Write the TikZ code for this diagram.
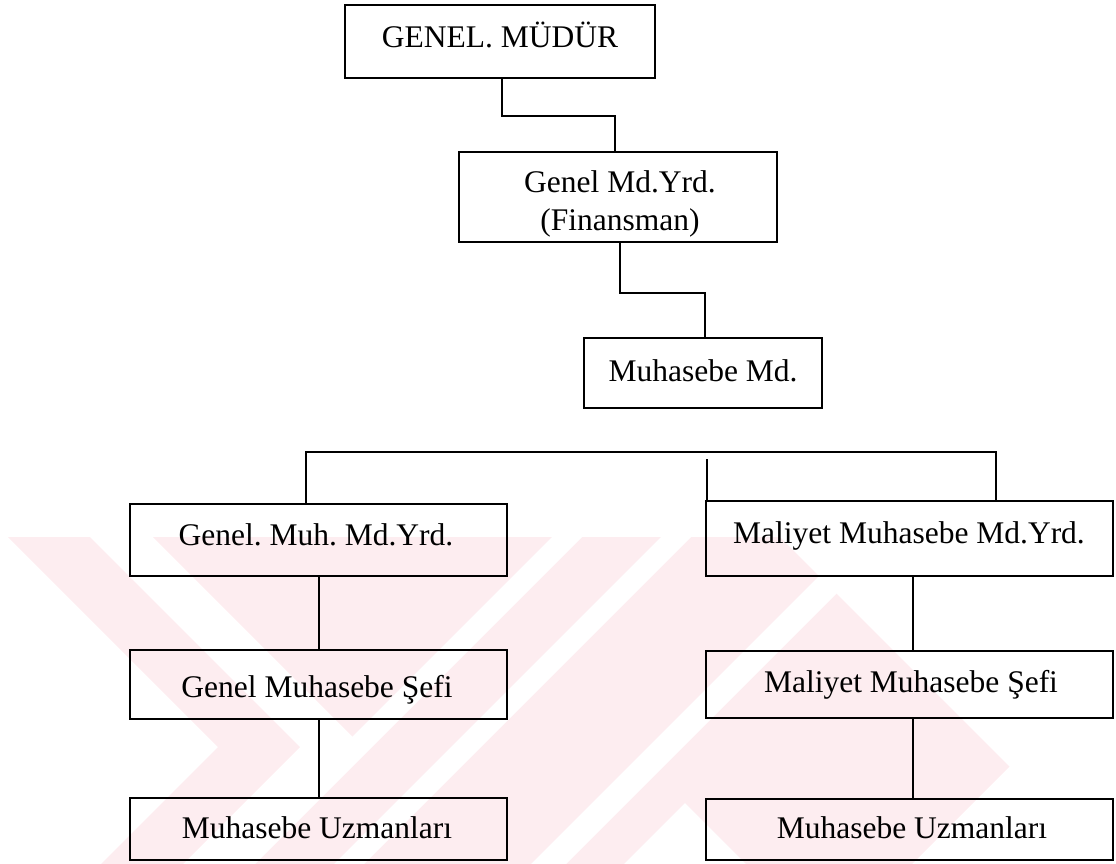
\documentclass[tikz,border=0pt]{standalone}
\usepackage{fontspec}
\setmainfont{Liberation Serif}
\frenchspacing
\definecolor{wmpink}{RGB}{253,237,240}
\begin{document}
\begin{tikzpicture}[x=1pt,y=-1pt,
  box/.style={draw=black,line width=2pt,inner sep=0pt,minimum width=#1},
  link/.style={draw=black,line width=2pt},
  lbl/.style={anchor=base,inner sep=0pt,font=\fontsize{31.5}{38}\selectfont}]
\useasboundingbox (0,0) rectangle (1116,863);

% faint background watermark
\begin{scope}
  \clip (8,537) rectangle (1116,863);
  \fill[wmpink] (-32,497) -- (218,747) -- (65,900) -- (147,900) -- (300,747) -- (50,497) -- cycle;
  \fill[wmpink] (113,497) -- (363,747) -- (210,900) -- (876,900) -- (1009.5,766.5) -- (740,497) -- cycle;
  \fill[white] (592,497) -- (622,497) -- (219,900) -- (189,900) -- cycle;
  \fill[white] (701,497) -- (731,497) -- (328,900) -- (298,900) -- cycle;
  \fill[white] (898,497) -- (933,497) -- (530,900) -- (495,900) -- cycle;
  \fill[white] (588,900) -- (685,803) -- (782,900) -- cycle;
\end{scope}

% boxes
\node[box=310, minimum height=73] (gm)  at (500,41.5) {};
\node[box=318, minimum height=90] (gmy) at (618,197) {};
\node[box=238, minimum height=70] (mm)  at (703,373) {};
\node[box=377, minimum height=72] (L1)  at (318.5,540) {};
\node[box=377, minimum height=69] (L2)  at (318.5,684.5) {};
\node[box=377, minimum height=62] (L3)  at (318.5,829) {};
\node[box=407, minimum height=75] (R1)  at (909.5,538.5) {};
\node[box=407, minimum height=67] (R2)  at (909.5,684.5) {};
\node[box=407, minimum height=61] (R3)  at (909.5,829.5) {};

% labels
\node[lbl] (gmt)  at (500,47)  {GENEL. MÜDÜR};
\node[lbl] (gmyt) at (620,192) {Genel Md.Yrd.};
\node[lbl] (gmyf) at (620,230) {(Finansman)};
\node[lbl] (mmt)  at (703,381) {Muhasebe Md.};
\node[lbl] (L1t)  at (316,545) {Genel. Muh. Md.Yrd.};
\node[lbl] (L2t)  at (317,697) {Genel Muhasebe Şefi};
\node[lbl] (L3t)  at (317,838) {Muhasebe Uzmanları};
\node[lbl] (R1t)  at (909,543) {Maliyet Muhasebe Md.Yrd.};
\node[lbl] (R2t)  at (911,692) {Maliyet Muhasebe Şefi};
\node[lbl] (R3t)  at (912,838) {Muhasebe Uzmanları};

% connectors
\draw[link] ([xshift=2]gm.south) -- ++(0,37) -| ([xshift=-3]gmy.north);
\draw[link] ([xshift=2]gmy.south) -- ++(0,50) -| ([xshift=2]mm.north);
\draw[link] ([xshift=-12.5]L1.north) -- ++(0,-51) -| ([xshift=86.5]R1.north);
\draw[link] ([xshift=-202.5]R1.north) -- ++(0,-41);
\draw[link] ([xshift=0.5]L1.south) -- ([xshift=0.5]L2.north);
\draw[link] ([xshift=0.5]L2.south) -- ([xshift=0.5]L3.north);
\draw[link] ([xshift=3.5]R1.south) -- ([xshift=3.5]R2.north);
\draw[link] ([xshift=3.5]R2.south) -- ([xshift=3.5]R3.north);
\end{tikzpicture}
\end{document}
